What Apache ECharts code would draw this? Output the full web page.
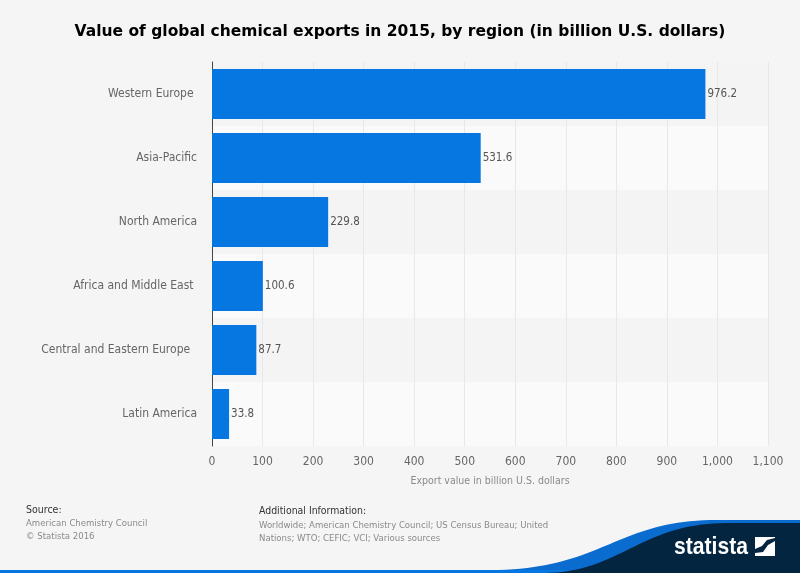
<!DOCTYPE html>
<html>
<head>
<meta charset="utf-8">
<style>html,body{margin:0;padding:0;background:#f5f5f5}#main{width:800px;height:573px}</style>
<script src="https://cdn.jsdelivr.net/npm/echarts@6/dist/echarts.min.js"></script>
</head>
<body>
<div id="main"></div>
<script>
const regions = ['Western Europe ', 'Asia-Pacific', 'North America', 'Africa and Middle East ', 'Central and Eastern Europe  ', 'Latin America'];
const exportValues = [976.2, 531.6, 229.8, 100.6, 87.7, 33.8];
const xTicks = [0, 100, 200, 300, 400, 500, 600, 700, 800, 900, 1000, 1100];

const bodyFont = '"DejaVu Sans Condensed", "DejaVu Sans", sans-serif';
const chart = echarts.init(document.getElementById('main'), null, { renderer: 'canvas' });

// sample a cubic curve into polygon points, graphic has no svg path element
function curve(p0, p1, p2, p3) {
  const pts = [];
  for (let i = 0; i <= 40; i++) {
    const t = i / 40, u = 1 - t;
    pts.push([
      u * u * u * p0[0] + 3 * u * u * t * p1[0] + 3 * u * t * t * p2[0] + t * t * t * p3[0],
      u * u * u * p0[1] + 3 * u * u * t * p1[1] + 3 * u * t * t * p2[1] + t * t * t * p3[1]
    ]);
  }
  return pts;
}
const blueEdge = curve([490, 570], [600, 570], [615, 522], [710, 520]);
const darkEdge = curve([545, 573], [620, 572], [640, 524], [725, 523]);

chart.setOption({
  backgroundColor: '#f5f5f5',
  animation: false,
  title: {
    text: 'Value of global chemical exports in 2015, by region (in billion U.S. dollars)',
    left: 'center',
    top: 19,
    textStyle: { fontFamily: '"DejaVu Sans", sans-serif', fontSize: 15.5, fontWeight: 'bold', color: '#000' }
  },
  grid: { left: 212, right: 32, top: 62, bottom: 127 },
  xAxis: {
    type: 'value',
    min: 0,
    max: xTicks[xTicks.length - 1],
    interval: 100,
    name: 'Export value in billion U.S. dollars',
    nameLocation: 'middle',
    nameGap: 30,
    nameTextStyle: { color: '#8a8a8a', fontFamily: bodyFont, fontSize: 10.5 },
    axisLine: { show: false },
    axisTick: { show: false },
    axisLabel: {
      color: '#666',
      fontFamily: bodyFont,
      fontSize: 12,
      margin: 10,
      formatter: v => v.toLocaleString('en-US')
    },
    splitLine: { show: true, lineStyle: { color: '#e8e8e8', width: 1 } }
  },
  yAxis: {
    type: 'category',
    data: regions,
    inverse: true,
    axisLine: { show: true, lineStyle: { color: '#444', width: 1 } },
    axisTick: { show: false },
    axisLabel: { color: '#666', fontFamily: bodyFont, fontSize: 12, margin: 15 },
    splitArea: { show: true, areaStyle: { color: ['#f4f4f4', '#fafafa'] } }
  },
  series: [{
    type: 'bar',
    data: exportValues,
    barWidth: 50,
    itemStyle: { color: '#0676e1' },
    label: {
      show: true,
      position: 'right',
      distance: 2,
      color: '#555',
      fontFamily: bodyFont,
      fontSize: 11.5,
      formatter: p => p.value.toFixed(1)
    }
  }],
  graphic: [
    { type: 'text', x: 26, y: 505, style: { text: 'Source:', fill: '#333', font: '10.5px ' + bodyFont } },
    { type: 'text', x: 26, y: 519, style: { text: 'American Chemistry Council', fill: '#8a8a8a', font: '9.5px ' + bodyFont } },
    { type: 'text', x: 26, y: 532, style: { text: '© Statista 2016', fill: '#8a8a8a', font: '9.5px ' + bodyFont } },
    { type: 'text', x: 259, y: 506, style: { text: 'Additional Information:', fill: '#333', font: '10.4px ' + bodyFont } },
    { type: 'text', x: 259, y: 521, style: { text: 'Worldwide; American Chemistry Council; US Census Bureau; United', fill: '#8a8a8a', font: '9.5px ' + bodyFont } },
    { type: 'text', x: 259, y: 534, style: { text: 'Nations; WTO; CEFIC; VCI; Various sources', fill: '#8a8a8a', font: '9.5px ' + bodyFont } },
    // footer swoosh
    { type: 'rect', shape: { x: 0, y: 570, width: 800, height: 3 }, style: { fill: '#0676e1' } },
    { type: 'polygon', shape: { points: blueEdge.concat([[800, 520], [800, 570]]) }, style: { fill: '#0b6cd0' } },
    { type: 'polygon', shape: { points: darkEdge.concat([[800, 523], [800, 573]]) }, style: { fill: '#04253f' } },
    { type: 'text', x: 674, y: 535, scaleX: 0.88, style: { text: 'statista', fill: '#fff', font: 'bold 24px "Liberation Sans Narrow", sans-serif' } },
    { type: 'polygon', shape: { points: [[755, 537], [775, 537], [775, 538], [767, 540], [762, 546], [755, 549]] }, style: { fill: '#fff' } },
    { type: 'polygon', shape: { points: [[775, 541], [775, 556], [755, 556], [755, 553], [763, 552], [768, 545]] }, style: { fill: '#fff' } }
  ]
});
</script>
</body>
</html>
